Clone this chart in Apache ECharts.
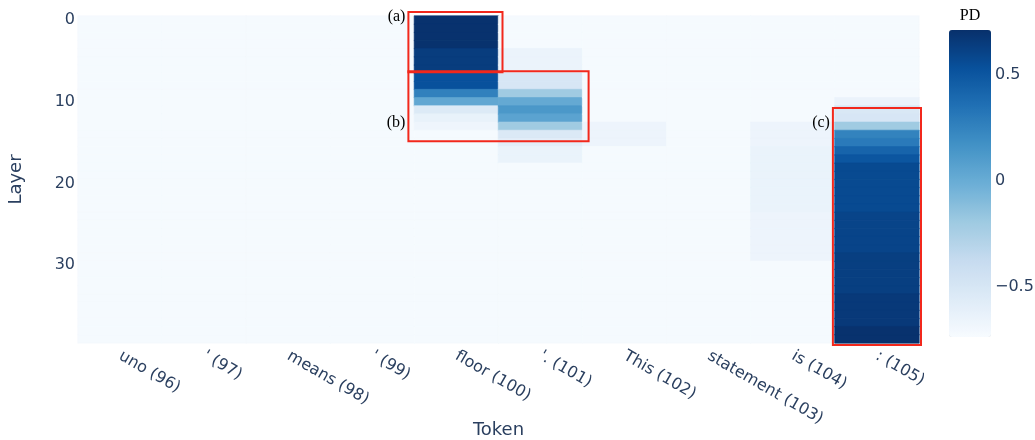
<!DOCTYPE html>
<html>
<head>
<meta charset="utf-8">
<script src="https://cdn.jsdelivr.net/npm/echarts@6/dist/echarts.min.js"></script>
<style>
  html, body { margin: 0; padding: 0; background: #ffffff; }
  #chart { width: 1035px; height: 440px; }
</style>
</head>
<body>
<div id="chart"></div>
<script>
// Token axis categories
const tokens = ['uno (96)', "' (97)", 'means (98)', "' (99)", 'floor (100)', "'. (101)",
                'This (102)', 'statement (103)', 'is (104)', ': (105)'];

// Layer axis categories (0 at the top)
const layers = ['0','1','2','3','4','5','6','7','8','9','10','11','12','13','14','15','16','17','18','19',
                '20','21','22','23','24','25','26','27','28','29','30','31','32','33','34','35','36','37','38','39'];

// PD value per layer (0..39) for each token
const pdUno96 = [-0.72,-0.72,-0.72,-0.72,-0.72,-0.72,-0.72,-0.72,-0.72,-0.72,
                 -0.72,-0.72,-0.72,-0.72,-0.72,-0.72,-0.72,-0.72,-0.72,-0.72,
                 -0.72,-0.72,-0.72,-0.72,-0.72,-0.72,-0.72,-0.72,-0.72,-0.72,
                 -0.72,-0.72,-0.72,-0.72,-0.72,-0.72,-0.72,-0.72,-0.72,-0.72];
const pdQuote97 = [-0.72,-0.72,-0.72,-0.72,-0.72,-0.72,-0.72,-0.72,-0.72,-0.72,
                   -0.72,-0.72,-0.72,-0.72,-0.72,-0.72,-0.72,-0.72,-0.72,-0.72,
                   -0.72,-0.72,-0.72,-0.72,-0.72,-0.72,-0.72,-0.72,-0.72,-0.72,
                   -0.72,-0.72,-0.72,-0.72,-0.72,-0.72,-0.72,-0.72,-0.72,-0.72];
const pdMeans98 = [-0.72,-0.72,-0.72,-0.72,-0.72,-0.72,-0.72,-0.72,-0.72,-0.72,
                   -0.72,-0.72,-0.72,-0.72,-0.72,-0.72,-0.72,-0.72,-0.72,-0.72,
                   -0.72,-0.72,-0.72,-0.72,-0.72,-0.72,-0.72,-0.72,-0.72,-0.72,
                   -0.72,-0.72,-0.72,-0.72,-0.72,-0.72,-0.72,-0.72,-0.72,-0.72];
const pdQuote99 = [-0.72,-0.72,-0.72,-0.72,-0.72,-0.72,-0.72,-0.72,-0.72,-0.72,
                   -0.72,-0.72,-0.72,-0.72,-0.72,-0.72,-0.72,-0.72,-0.72,-0.72,
                   -0.72,-0.72,-0.72,-0.72,-0.72,-0.72,-0.72,-0.72,-0.72,-0.72,
                   -0.72,-0.72,-0.72,-0.72,-0.72,-0.72,-0.72,-0.72,-0.72,-0.72];
const pdFloor100 = [0.70, 0.70, 0.70, 0.70, 0.64, 0.64, 0.64, 0.53, 0.53, 0.26,
                    0.03,-0.54,-0.63,-0.67,-0.72,-0.72,-0.72,-0.72,-0.72,-0.72,
                   -0.72,-0.72,-0.72,-0.72,-0.72,-0.72,-0.72,-0.72,-0.72,-0.72,
                   -0.72,-0.72,-0.72,-0.72,-0.72,-0.72,-0.72,-0.72,-0.72,-0.72];
const pdPeriod101 = [-0.72,-0.72,-0.72,-0.72,-0.65,-0.65,-0.65,-0.50,-0.50,-0.20,
                      0.02, 0.13, 0.06,-0.20,-0.53,-0.59,-0.64,-0.64,-0.72,-0.72,
                     -0.72,-0.72,-0.72,-0.72,-0.72,-0.72,-0.72,-0.72,-0.72,-0.72,
                     -0.72,-0.72,-0.72,-0.72,-0.72,-0.72,-0.72,-0.72,-0.72,-0.72];
const pdThis102 = [-0.72,-0.72,-0.72,-0.72,-0.72,-0.72,-0.72,-0.72,-0.72,-0.72,
                   -0.72,-0.72,-0.72,-0.66,-0.66,-0.66,-0.72,-0.72,-0.72,-0.72,
                   -0.72,-0.72,-0.72,-0.72,-0.72,-0.72,-0.72,-0.72,-0.72,-0.72,
                   -0.72,-0.72,-0.72,-0.72,-0.72,-0.72,-0.72,-0.72,-0.72,-0.72];
const pdStatement103 = [-0.72,-0.72,-0.72,-0.72,-0.72,-0.72,-0.72,-0.72,-0.72,-0.72,
                        -0.72,-0.72,-0.72,-0.72,-0.72,-0.72,-0.72,-0.72,-0.72,-0.72,
                        -0.72,-0.72,-0.72,-0.72,-0.72,-0.72,-0.72,-0.72,-0.72,-0.72,
                        -0.72,-0.72,-0.72,-0.72,-0.72,-0.72,-0.72,-0.72,-0.72,-0.72];
const pdIs104 = [-0.72,-0.72,-0.72,-0.72,-0.72,-0.72,-0.72,-0.72,-0.72,-0.72,
                 -0.72,-0.72,-0.72,-0.66,-0.66,-0.66,-0.64,-0.64,-0.64,-0.64,
                 -0.64,-0.64,-0.64,-0.64,-0.66,-0.66,-0.66,-0.66,-0.66,-0.66,
                 -0.72,-0.72,-0.72,-0.72,-0.72,-0.72,-0.72,-0.72,-0.72,-0.72];
const pdColon105 = [-0.72,-0.72,-0.72,-0.72,-0.72,-0.72,-0.72,-0.72,-0.72,-0.72,
                    -0.65,-0.52,-0.50,-0.20, 0.25, 0.30, 0.42, 0.50, 0.57, 0.57,
                     0.57, 0.57, 0.57, 0.57, 0.60, 0.60, 0.60, 0.60, 0.60, 0.63,
                     0.63, 0.63, 0.63, 0.63, 0.66, 0.66, 0.66, 0.66, 0.70, 0.70];

const pdColumns = [pdUno96, pdQuote97, pdMeans98, pdQuote99, pdFloor100,
                   pdPeriod101, pdThis102, pdStatement103, pdIs104, pdColon105];

// Colour bar range and tick values
const pdMin = -0.735;
const pdMax = 0.71;
const barTicks = [-0.5, 0, 0.5];

// Highlight boxes: token index range and layer range
const boxes = [
  { label: '(a)', tok: [4, 4], lay: [0, 6],   labelLayer: -0.38 },
  { label: '(b)', tok: [4, 5], lay: [7, 14],  labelLayer: 12.6 },
  { label: '(c)', tok: [9, 9], lay: [11, 39], labelLayer: 12.6 }
];
const boxPad = [
  { l: 6, r: 4, t: 4, b: -1 },
  { l: 6, r: 6, t: 2, b: 2.5 },
  { l: 2, r: 2, t: -2, b: 2 }
];

const blues = ['#f7fbff', '#deebf7', '#c6dbef', '#9ecae1', '#6baed6',
               '#4292c6', '#2171b5', '#08519c', '#08306b'];

// Each cell also gets a hairline border in its own colour so adjacent rows join without seams
const cells = [];
pdColumns.forEach((col, xi) => col.forEach((v, yi) => {
  const c = echarts.color.lerp((v - pdMin) / (pdMax - pdMin), blues);
  cells.push({ value: [xi, yi, v], itemStyle: { borderColor: c, borderWidth: 0.6 } });
}));

const axisColor = '#2a3f5f';
const sans = 'DejaVu Sans';
const serif = 'Liberation Serif';

const chart = echarts.init(document.getElementById('chart'), null, { renderer: 'canvas' });

chart.setOption({
  animation: false,
  backgroundColor: '#ffffff',
  grid: [
    { left: 78, top: 16, width: 841, height: 327, outerBoundsMode: 'none', containLabel: false },
    { left: 949, top: 30, width: 42, height: 307, outerBoundsMode: 'none', containLabel: false }
  ],
  xAxis: [
    {
      type: 'category', data: tokens, gridIndex: 0,
      axisLine: { show: false }, axisTick: { show: false }, splitLine: { show: false },
      axisLabel: { interval: 0, rotate: -30, margin: 12, color: axisColor, fontFamily: sans, fontSize: 16 },
      name: 'Token', nameLocation: 'middle', nameGap: 78, nameMoveOverlap: false,
      nameTextStyle: { color: axisColor, fontFamily: sans, fontSize: 18 }
    },
    { type: 'value', gridIndex: 1, show: false, min: 0, max: 1 }
  ],
  yAxis: [
    {
      type: 'category', data: layers, gridIndex: 0, inverse: true,
      axisLine: { show: false }, axisTick: { show: false }, splitLine: { show: false },
      axisLabel: { interval: 9, margin: 3, padding: [5, 0, 0, 0], color: axisColor, fontFamily: sans, fontSize: 16 },
      name: 'Layer', nameLocation: 'middle', nameGap: 53, nameRotate: 90, nameMoveOverlap: false,
      nameTextStyle: { color: axisColor, fontFamily: sans, fontSize: 18 }
    },
    {
      type: 'value', gridIndex: 1, position: 'right', min: pdMin, max: pdMax,
      axisLine: { show: false }, axisTick: { show: false }, splitLine: { show: false },
      axisLabel: {
        customValues: barTicks, margin: 4, color: axisColor, fontFamily: sans, fontSize: 16,
        formatter: v => (v < 0 ? '\u2212' + Math.abs(v) : String(v))
      }
    }
  ],
  visualMap: {
    type: 'continuous', seriesIndex: 0, min: pdMin, max: pdMax,
    calculable: false, hoverLink: false, realtime: false,
    orient: 'vertical', left: 949, top: 30, itemWidth: 42, itemHeight: 307,
    padding: 0, text: null, showLabel: false,
    inRange: { color: blues }
  },
  series: [{
    type: 'heatmap', xAxisIndex: 0, yAxisIndex: 0, data: cells,
    emphasis: { disabled: true }, progressive: 0
  }]
});

// Convert fractional token/layer positions to pixels
function toPx(u, v) {
  const p0 = chart.convertToPixel({ gridIndex: 0 }, [0, 0]);
  const p1 = chart.convertToPixel({ gridIndex: 0 }, [1, 1]);
  return [p0[0] + u * (p1[0] - p0[0]), p0[1] + v * (p1[1] - p0[1])];
}

const graphics = [];
boxes.forEach((b, i) => {
  const pad = boxPad[i];
  const tl = toPx(b.tok[0] - 0.5, b.lay[0] - 0.5);
  const br = toPx(b.tok[1] + 0.5, b.lay[1] + 0.5);
  const x0 = tl[0] - pad.l, y0 = tl[1] - pad.t;
  const x1 = br[0] + pad.r, y1 = br[1] + pad.b;
  graphics.push({
    type: 'rect', z: 100,
    shape: { x: x0, y: y0, width: x1 - x0, height: y1 - y0 },
    style: { fill: null, stroke: '#f2281c', lineWidth: 2 }
  });
  const ly = toPx(0, b.labelLayer)[1];
  graphics.push({
    type: 'text', z: 100, x: x0 - 3, y: ly,
    style: { text: b.label, fill: '#000000', font: '16px "' + serif + '"', align: 'right', verticalAlign: 'middle' }
  });
});
// Colour bar title
graphics.push({
  type: 'text', z: 100, x: 970, y: 16,
  style: { text: 'PD', fill: '#000000', font: '16px "' + serif + '"', align: 'center', verticalAlign: 'middle' }
});

chart.setOption({ graphic: graphics });
</script>
</body>
</html>
